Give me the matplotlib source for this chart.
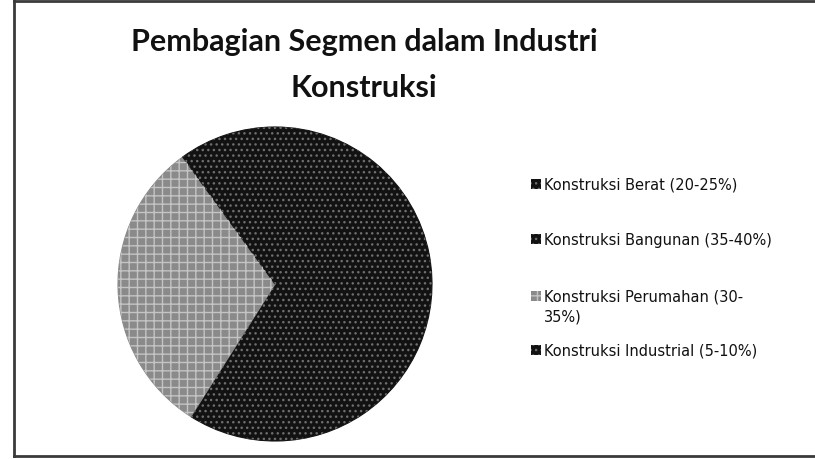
import matplotlib
matplotlib.use("Agg")
import matplotlib.pyplot as plt
from matplotlib.patches import Rectangle
from matplotlib.lines import Line2D

title = "Pembagian Segmen dalam Industri\nKonstruksi"
categories = ["Konstruksi Berat (20-25%)", "Konstruksi Bangunan (35-40%)",
              "Konstruksi Perumahan (30-\n35%)", "Konstruksi Industrial (5-10%)"]
values = [22, 37, 31, 10]
face_colors = ["#121212", "#121212", "#8a8a8a", "#121212"]
hatch_colors = ["#6e6e6e", "#6e6e6e", "#c4c4c4", "#6e6e6e"]
hatches = ["...", "...", "++", "..."]

W, H = 815, 460
fig = plt.figure(figsize=(W / 100, H / 100), dpi=100)
fig.patch.set_facecolor("white")

# outer chart frame: left, top, bottom (right side runs off the image)
fx = lambda px: px / W
fy = lambda py: 1 - py / H
for xs, ys in [([14, 14], [2, 457]), ([14, W + 10], [2, 2]), ([14, W + 10], [457, 457])]:
    fig.add_artist(Line2D([fx(v) for v in xs], [fy(v) for v in ys],
                          transform=fig.transFigure, color="#3a3a3a", linewidth=2.0))

fig.text(364 / W, 1 - 65 / H, title, ha="center", va="center",
         fontsize=22, fontweight="bold", family="Lato", linespacing=1.75,
         color="#111111")

cx, cy, r = 275, 285, 157
ax = fig.add_axes([(cx - r) / W, 1 - (cy + r) / H, 2 * r / W, 2 * r / H])
base, _ = ax.pie(values, startangle=90, counterclock=False,
                 colors=face_colors, wedgeprops=dict(linewidth=0.8))
for w, fc in zip(base, face_colors):
    w.set_edgecolor(fc)
tex, _ = ax.pie(values, startangle=90, counterclock=False,
                wedgeprops=dict(linewidth=0, fill=False))
for w, hc, h in zip(tex, hatch_colors, hatches):
    w.set_hatch(h)
    w.set_edgecolor(hc)
    w.set_linewidth(0)
ax.set_aspect("equal")
ax.set_xlim(-1, 1)
ax.set_ylim(-1, 1)
ax.axis("off")

rows = [185, 240, 297, 351]
for lab, fc, hc, h, y in zip(categories, face_colors, hatch_colors, hatches, rows):
    sq = Rectangle((531 / W, 1 - (y + 5) / H), 10 / W, 10 / H,
                   transform=fig.transFigure, facecolor=fc, edgecolor=hc,
                   hatch=h, linewidth=0)
    fig.patches.append(sq)
    fig.text(544 / W, 1 - (y - 7) / H, lab, ha="left", va="top",
             fontsize=10.5, family="DejaVu Sans", color="#111111", linespacing=1.4)

fig.savefig("out.png", dpi=100)
